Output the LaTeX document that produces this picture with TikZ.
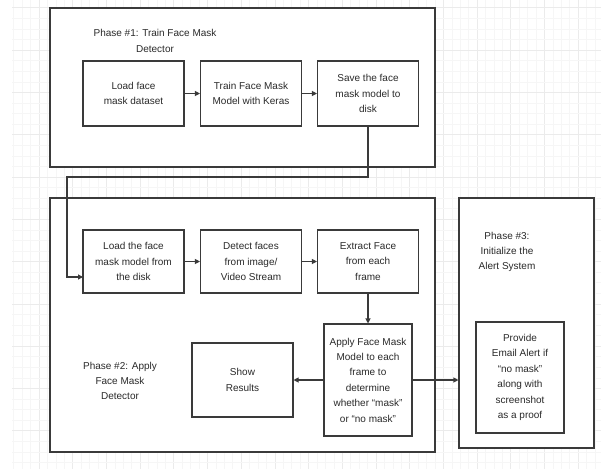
\documentclass[tikz,border=0pt]{standalone}
\usepackage{fontspec}
\setmainfont{Liberation Sans}
\usetikzlibrary{arrows.meta}
\definecolor{lijn}{HTML}{3A3A3A}
\definecolor{tekst}{HTML}{2A2A2A}
\begin{document}
\begin{tikzpicture}[x=1pt,y=-1pt,
    box/.style={draw=lijn, line width=1.1pt, fill=white, align=center, text=tekst,
      minimum width=101pt, minimum height=64pt, inner sep=2pt,
      font=\fontsize{10}{15.4}\selectfont},
    phase/.style={draw=lijn, line width=1.1pt, fill=white, inner sep=0pt},
    phasetext/.style={align=center, text=tekst, inner sep=0pt,
      font=\fontsize{10}{15.2}\selectfont},
    arr/.style={draw=lijn, line width=1.1pt, -{Triangle[length=5pt,width=5pt]}}]
    \useasboundingbox (0,0) rectangle (601,469);

    % Rasterlijnen op de achtergrond
    \foreach \i in {1,...,70} {
      \pgfmathtruncatemacro{\hoofd}{mod(\i,4)==0}
      \ifnum\hoofd=1\relax
        \draw[gray!16, line width=0.5pt] ({5.2+8.425*\i},0) -- ++(0,469);
      \else
        \draw[gray!7, line width=0.4pt] ({5.2+8.425*\i},0) -- ++(0,469);
      \fi
    }
    \foreach \j in {0,...,43} {
      \pgfmathtruncatemacro{\hoofd}{mod(\j,4)==0}
      \ifnum\hoofd=1\relax
        \draw[gray!16, line width=0.5pt] (12,{7.7+10.575*\j}) -- (601,{7.7+10.575*\j});
      \else
        \draw[gray!7, line width=0.4pt] (12,{7.7+10.575*\j}) -- (601,{7.7+10.575*\j});
      \fi
    }

    % Fase-kaders
    \node[phase, minimum width=385pt, minimum height=159pt] (p1) at (242.5,87.5) {};
    \node[phase, minimum width=385pt, minimum height=254pt] (p2) at (242.5,325) {};
    \node[phase, minimum width=135pt, minimum height=250pt] (p3) at (526.5,323) {};

    \node[phasetext] (l1) at (155,41) {Phase \#1: Train Face Mask\\Detector};
    \node[phasetext] (l2) at (120,381) {Phase \#2: Apply\\Face Mask\\Detector};
    \node[phasetext] (l3) at (507,252) {Phase \#3:\\Initialize the\\Alert System};

    % Fase 1
    \node[box, minimum height=65pt] (loadset) at (133.5,93.5) {Load face\\mask dataset};
    \node[box, minimum height=65pt] (train) at (251,93.5) {Train Face Mask\\Model with Keras};
    \node[box, minimum height=65pt] (save) at (368,93.5) {Save the face\\mask model to\\disk};

    % Fase 2
    \node[box, minimum height=63pt] (loadmodel) at (133.5,261.5) {Load the face\\mask model from\\the disk};
    \node[box, minimum height=63pt] (detect) at (251,261.5) {Detect faces\\from image/\\Video Stream};
    \node[box, minimum height=63pt] (extract) at (368,261.5) {Extract Face\\from each\\frame};
    \node[box, minimum width=88pt, minimum height=112pt] (apply) at (368,380)
      {Apply Face Mask\\Model to each\\frame to\\determine\\whether ``mask''\\or ``no mask''};
    \node[box, minimum height=74pt] (show) at (242.5,380) {Show\\Results};

    % Fase 3
    \node[box, minimum width=88pt, minimum height=111pt] (alert) at (520,377.5)
      {Provide\\Email Alert if\\``no mask''\\along with\\screenshot\\as a proof};

    % Pijlen
    \coordinate (turn) at (67,177);
    \coordinate (enter) at (83,277);
    \draw[arr] (loadset) -- (train);
    \draw[arr] (train) -- (save);
    \draw[arr] (save.south) |- (turn) |- (enter);
    \draw[arr] (loadmodel) -- (detect);
    \draw[arr] (detect) -- (extract);
    \draw[arr] (extract) -- (apply);
    \draw[arr] (apply) -- (show);
    \draw[arr] (apply.east) -- (apply.east -| p3.west);
  \end{tikzpicture}
\end{document}
